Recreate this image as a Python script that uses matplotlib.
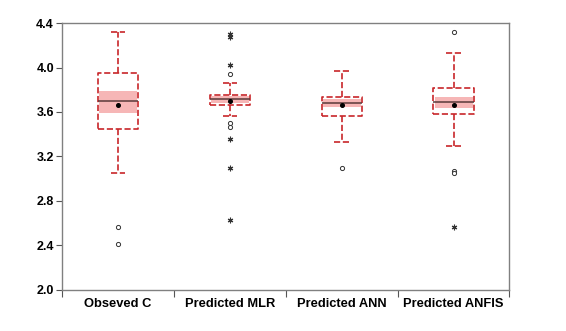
import matplotlib.pyplot as plt
from matplotlib.ticker import MultipleLocator

plt.rcParams['font.family'] = ['Liberation Sans', 'DejaVu Sans']

labels = ['Obseved C', 'Predicted MLR', 'Predicted ANN', 'Predicted ANFIS']
whislo = [3.046, 3.56, 3.329, 3.296]
q1 = [3.446, 3.662, 3.563, 3.584]
med = [3.698, 3.719, 3.685, 3.689]
q3 = [3.95, 3.757, 3.737, 3.818]
whishi = [4.32, 3.86, 3.973, 4.135]
means = [3.662, 3.698, 3.662, 3.662]
ci_lo = [3.595, 3.685, 3.644, 3.64]
ci_hi = [3.793, 3.745, 3.72, 3.739]

# mild outliers (circles) and far outliers (stars)
near_out = [[2.567, 2.411],
            [3.944, 3.505, 3.464],
            [3.095],
            [4.322, 3.07, 3.05]]
far_out = [[],
           [4.298, 4.274, 4.027, 3.356, 3.091, 2.63],
           [],
           [2.564]]

red = '#c8262a'
pos = list(range(1, len(labels) + 1))

fig, ax = plt.subplots(figsize=(5.66, 3.31), dpi=100)
fig.subplots_adjust(left=0.11, right=0.9, top=0.93, bottom=0.125)

# shaded band around the median
ax.bar(pos, [h - l for l, h in zip(ci_lo, ci_hi)], bottom=ci_lo, width=0.34,
       color='#f6b6b6', edgecolor='none', zorder=1)

stats = [dict(label=l, whislo=a, q1=b, med=c, q3=d, whishi=e, mean=m, fliers=[])
         for l, a, b, c, d, e, m in zip(labels, whislo, q1, med, q3, whishi, means)]
ax.bxp(stats, positions=pos, widths=0.36, showmeans=True, patch_artist=False,
       boxprops=dict(color=red, linestyle='--', linewidth=1.2),
       whiskerprops=dict(color=red, linestyle='--', linewidth=1.2),
       capprops=dict(color=red, linestyle='--', linewidth=1.2),
       capwidths=0.13,
       medianprops=dict(color='#5a3a3a', linewidth=1.1),
       meanprops=dict(marker='o', markerfacecolor='black', markeredgecolor='black',
                      markersize=2.6),
       zorder=2)

for p, vals in zip(pos, near_out):
    ax.plot([p] * len(vals), vals, linestyle='none', marker='o', markersize=3.0,
            markerfacecolor='white', markeredgecolor='#333333', markeredgewidth=0.7)
for p, vals in zip(pos, far_out):
    ax.plot([p] * len(vals), vals, linestyle='none', marker=(6, 2, 0), markersize=4,
            color='#333333', markeredgewidth=0.8)

ax.set_xlim(0.5, 4.5)
ax.set_ylim(2.0, 4.4)
ax.yaxis.set_major_locator(MultipleLocator(0.4))
ax.yaxis.set_major_formatter(plt.FormatStrFormatter('%.1f'))

# category ticks sit on the boundaries between groups
ax.set_xticks([0.5, 1.5, 2.5, 3.5, 4.5])
ax.set_xticklabels([])
ax.set_xticks(pos, minor=True)
ax.set_xticklabels(labels, minor=True)
ax.tick_params(axis='x', which='minor', length=0, pad=6)
ax.tick_params(axis='x', which='major', length=5, color='#555555')
ax.tick_params(axis='y', length=4, color='#555555', pad=2)
for t in ax.get_xticklabels(minor=True):
    t.set_fontweight('bold')
    t.set_fontsize(9.3)
for t in ax.get_yticklabels():
    t.set_fontweight('bold')
    t.set_fontsize(9)

for s in ax.spines.values():
    s.set_color('#808080')
    s.set_linewidth(1.0)

fig.savefig('out.png', dpi=100)
